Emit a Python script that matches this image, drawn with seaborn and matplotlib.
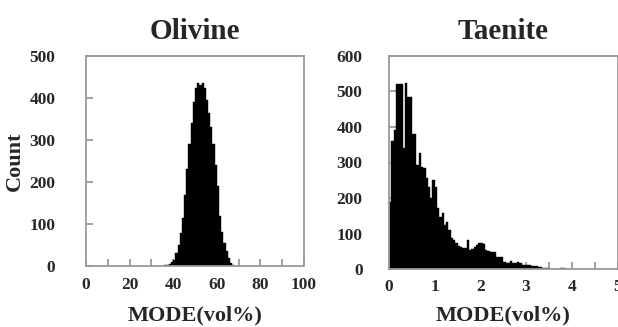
import numpy as np
import pandas as pd
import matplotlib
matplotlib.use("Agg")
import matplotlib.pyplot as plt
import seaborn as sns
from matplotlib.ticker import MultipleLocator

sns.set_style("white")
plt.rcParams['font.family'] = ['Liberation Serif', 'DejaVu Serif']
plt.rcParams['font.weight'] = 'bold'

# ---------------- data ----------------
# Olivine: 1 vol% bins, left edges
olivine_left = list(range(35, 68))
olivine_counts = [1, 2, 3, 5, 9, 14, 30, 50, 78, 115, 170, 230, 290, 340, 390, 425,
                  435, 430, 435, 425, 395, 365, 330, 290, 240, 190, 120, 80, 55, 35,
                  20, 8, 3]

# Taenite: 0.05 vol% bins, left edges
taenite_left = [round(0.05 * i, 2) for i in range(80)]
taenite_counts = [190, 360, 392, 520, 520, 520, 340, 525, 485, 485,
                  380, 380, 293, 327, 288, 285, 255, 230, 200, 250,
                  230, 171, 147, 157, 124, 133, 110, 86, 82, 72,
                  66, 63, 58, 58, 82, 53, 55, 63, 68, 72,
                  74, 70, 53, 50, 49, 49, 49, 35, 33, 33,
                  21, 17, 17, 22, 17, 17, 21, 18, 12, 10,
                  10, 10, 9, 9, 8, 7, 6, 4, 3, 2,
                  1, 1, 1, 1, 1, 3, 4, 1, 0, 0]

olivine_width = 1.0
taenite_width = 0.05

ol = pd.DataFrame({"x": np.array(olivine_left) + olivine_width / 2, "n": olivine_counts})
ta = pd.DataFrame({"x": np.array(taenite_left) + taenite_width / 2, "n": taenite_counts})

# ---------------- figure ----------------
W, H = 618, 327
fig = plt.figure(figsize=(W / 100, H / 100), dpi=100)

ax1 = fig.add_axes([86 / W, 1 - 266 / H, (304 - 86) / W, (266 - 56) / H])
ax2 = fig.add_axes([389 / W, 1 - 269 / H, 228.5 / W, (269 - 56) / H])

sns.histplot(data=ol, x="x", weights="n", binwidth=olivine_width,
             binrange=(olivine_left[0], olivine_left[-1] + olivine_width),
             color="black", alpha=1, edgecolor="black", linewidth=0.3, ax=ax1)
sns.histplot(data=ta, x="x", weights="n", binwidth=taenite_width,
             binrange=(0, 4.0),
             color="black", alpha=1, edgecolor="black", linewidth=0.3, ax=ax2)

spine_col = "#9a9a9a"
tick_fs = 12.5
lab_fs = 16

for ax, title in ((ax1, "Olivine"), (ax2, "Taenite")):
    for s in ax.spines.values():
        s.set_color(spine_col)
        s.set_linewidth(1.3)
        s.set_visible(True)
    ax.set_title(title, fontsize=21, fontweight="bold", pad=12)
    ax.tick_params(which="both", direction="in", length=5, width=1.3, color=spine_col,
                   labelsize=tick_fs, bottom=True, left=True, top=False, right=False)

# Olivine axes
ax1.set_xlim(0, 100)
ax1.set_ylim(0, 500)
ax1.xaxis.set_major_locator(MultipleLocator(20))
ax1.xaxis.set_minor_locator(MultipleLocator(10))
ax1.yaxis.set_major_locator(MultipleLocator(100))
ax1.tick_params(axis="y", pad=22)
ax1.tick_params(axis="x", pad=8)
ax1.set_ylabel("Count", fontsize=lab_fs, fontweight="bold", labelpad=3)
ax1.set_xlabel("MODE(vol%)", fontsize=lab_fs, fontweight="bold", labelpad=9)

# Taenite axes
ax2.set_xlim(0, 5)
ax2.set_ylim(0, 600)
ax2.xaxis.set_major_locator(MultipleLocator(1))
ax2.xaxis.set_minor_locator(MultipleLocator(0.5))
ax2.yaxis.set_major_locator(MultipleLocator(100))
ax2.tick_params(axis="y", pad=19)
ax2.tick_params(axis="x", pad=7)
ax2.set_ylabel("")
ax2.set_xlabel("MODE(vol%)", fontsize=lab_fs, fontweight="bold", labelpad=8)

for ax in (ax1, ax2):
    for lab in ax.get_xticklabels() + ax.get_yticklabels():
        lab.set_fontweight("bold")

fig.savefig("out.png", dpi=100)
